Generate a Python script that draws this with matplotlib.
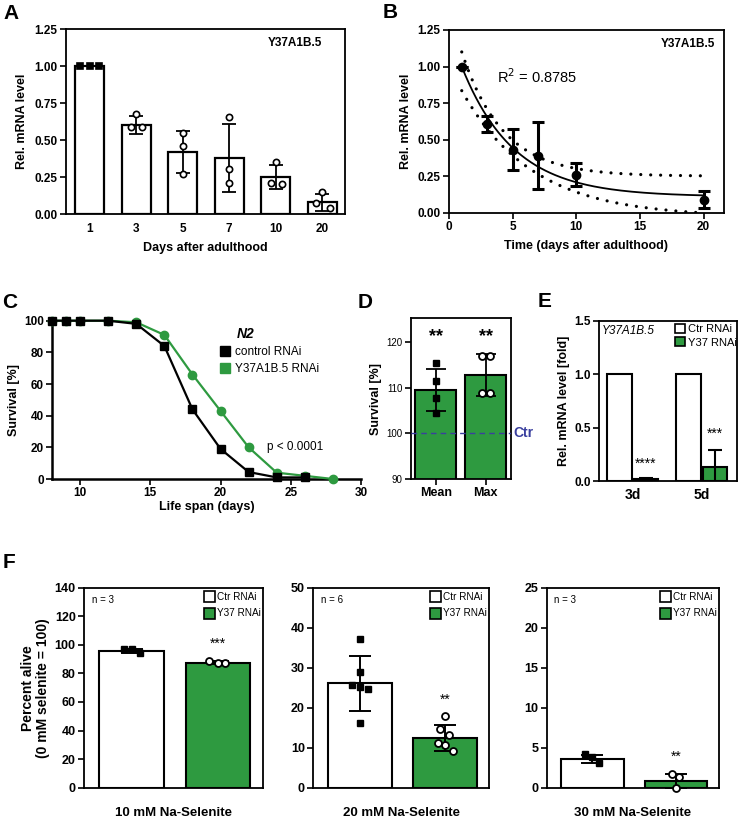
import numpy as np
import matplotlib
matplotlib.use('Agg')
from matplotlib import pyplot as plt
from matplotlib.patches import Patch
from matplotlib.lines import Line2D
from matplotlib.transforms import blended_transform_factory

# ---- data ----
# A: mRNA level over days
days_a = ['1', '3', '5', '7', '10', '20']
mrna_mean = [1.00, 0.60, 0.42, 0.38, 0.25, 0.08]
mrna_sd = [0.0, 0.06, 0.14, 0.23, 0.08, 0.056]
mrna_pts = [[1.0, 1.0, 1.0], [0.675, 0.59, 0.59], [0.547, 0.464, 0.27],
            [0.655, 0.304, 0.214], [0.35, 0.214, 0.205], [0.149, 0.074, 0.04]]

# B: same data as time course with exponential fit
time_b = [1, 3, 5, 7, 10, 20]
mean_b = [1.00, 0.61, 0.43, 0.39, 0.26, 0.09]
sd_b = [0.0, 0.055, 0.14, 0.23, 0.08, 0.057]
fit_plateau, fit_span, fit_k = 0.11, 0.89, 0.245
upper_plateau, upper_span, upper_k = 0.25, 0.85, 0.31
lower_plateau, lower_span, lower_k = -0.03, 0.865, 0.18
r_squared = 0.8785

# C: survival curves
days_ctrl = [8, 9, 10, 12, 14, 16, 18, 20, 22, 24, 26]
surv_ctrl = [100, 100, 100, 100, 98, 84, 44, 19, 4.4, 1, 1]
days_y37 = [8, 9, 10, 12, 14, 16, 18, 20, 22, 24, 26, 28]
surv_y37 = [100, 100, 100, 100, 99, 91, 66, 43, 20, 4, 2, 0]

# D: relative survival
cats_d = ['Mean', 'Max']
d_mean = [109.5, 112.7]
d_sd = [4.6, 4.6]
d_pts = [[115.4, 111.4, 107.7, 104.4], [116.9, 116.9, 108.9, 108.9]]

# E: knockdown efficiency
groups_e = ['3d', '5d']
e_ctr = [1.0, 1.0]
e_y37 = [0.02, 0.13]
e_y37_sd = [0.01, 0.16]
e_stars = ['****', '***']

# F: selenite stress
f_titles = ['10 mM Na-Selenite', '20 mM Na-Selenite', '30 mM Na-Selenite']
f_n = [3, 6, 3]
f_ymax = [140, 50, 25]
f_ystep = [20, 10, 5]
f_ctr_mean = [95.7, 26.1, 3.6]
f_ctr_sd = [1.5, 6.8, 0.55]
f_y37_mean = [87.5, 12.5, 0.85]
f_y37_sd = [1.0, 3.2, 0.85]
f_ctr_pts = [[97.1, 97.1, 94.5], [37.2, 28.9, 25.6, 25.3, 24.75, 16.1], [4.2, 3.9, 3.1]]
f_y37_pts = [[89.0, 87.2, 87.0], [17.9, 14.6, 13.2, 11.1, 10.6, 9.2], [1.7, 1.4, 0.0]]
f_stars = ['***', '**', '**']

# ---- styles / layout ----
GREEN = '#2e9a40'
BLUE = '#3a3f9e'
jit_a = [[-0.21, 0, 0.21], [0, -0.12, 0.12], [0, 0, 0], [0, 0, 0], [0, -0.11, 0.13], [0, -0.13, 0.16]]
jit_d = [[0, 0, 0, 0], [-0.08, 0.08, -0.07, 0.09]]
jit_f_ctr = [[-0.09, 0, 0.1], [0, 0, -0.09, 0, 0.09, 0], [-0.09, -0.01, 0.08]]
jit_f_y37 = [[-0.1, 0, 0.08], [0, -0.06, 0.05, -0.08, 0, 0.09], [-0.05, 0.045, 0]]
f_star_y = [100.6, 22.1, 3.9]

plt.rcParams['font.family'] = ['Liberation Sans', 'DejaVu Sans']
plt.rcParams['font.size'] = 8.5
plt.rcParams['axes.linewidth'] = 1.3
plt.rcParams['xtick.major.width'] = 1.2
plt.rcParams['ytick.major.width'] = 1.2
plt.rcParams['xtick.major.size'] = 4
plt.rcParams['ytick.major.size'] = 4
plt.rcParams['xtick.major.pad'] = 2
plt.rcParams['ytick.major.pad'] = 2

W, H = 740, 819
fig = plt.figure(figsize=(W / 100, H / 100), dpi=100)


def box(l, r, t, b):
    return [l / W, 1 - b / H, (r - l) / W, (b - t) / H]


def bold_ticks(ax, size=8.5):
    for lab in ax.get_xticklabels() + ax.get_yticklabels():
        lab.set_fontweight('bold')
        lab.set_fontsize(size)


def letter(x, y, s):
    fig.text(x / W, 1 - y / H, s, fontsize=15, fontweight='bold', va='top', ha='left')


# ---- A ----
ax = fig.add_axes(box(65.5, 345, 29, 214.3))
x = np.arange(len(days_a))
ax.bar(x, mrna_mean, width=0.62, color='white', edgecolor='black', linewidth=1.6, zorder=2)
has_err = np.array(mrna_sd) > 0
ax.errorbar(x[has_err], np.array(mrna_mean)[has_err], yerr=np.array(mrna_sd)[has_err], fmt='none',
            ecolor='black', elinewidth=1.3, capsize=5, capthick=1.3, zorder=3)
for i in range(len(days_a)):
    mk = 's' if i == 0 else 'o'
    fc = 'black' if i == 0 else 'white'
    ax.plot(x[i] + np.array(jit_a[i]), mrna_pts[i], ls='none', marker=mk, ms=4.5,
            mfc=fc, mec='black', mew=1.2, zorder=4)
ax.set_xlim(-0.52, 5.49)
ax.set_ylim(0, 1.25)
ax.set_xticks(x)
ax.set_xticklabels(days_a)
ax.tick_params(axis='x', length=0, pad=6)
ax.set_yticks([0, 0.25, 0.5, 0.75, 1.0, 1.25])
ax.set_yticklabels(['0.00', '0.25', '0.50', '0.75', '1.00', '1.25'])
bold_ticks(ax)
ax.set_ylabel('Rel. mRNA level', fontweight='bold', fontsize=9, labelpad=4)
ax.set_xlabel('Days after adulthood', fontweight='bold', fontsize=9, labelpad=5)
ax.text(0.918, 0.955, 'Y37A1B.5', transform=ax.transAxes, ha='right', va='top',
        fontweight='bold', fontsize=8.5)
letter(3, 4, 'A')

# ---- B ----
ax = fig.add_axes(box(449, 724, 30, 212.7))
xs = np.linspace(time_b[0], time_b[-1], 200)
fit = fit_plateau + fit_span * np.exp(-fit_k * (xs - time_b[0]))
upper = upper_plateau + upper_span * np.exp(-upper_k * (xs - time_b[0]))
lower = lower_plateau + lower_span * np.exp(-lower_k * (xs - time_b[0]))
ax.plot(xs, fit, color='black', lw=1.3, zorder=2)
for band in (upper, lower):
    ax.plot(xs, band, color='black', lw=2.3, ls=(0, (0.01, 3.1)), dash_capstyle='round', zorder=2)
ax.errorbar(time_b, mean_b, yerr=sd_b, fmt='o', color='black', ms=6, elinewidth=2.2,
            capsize=4, capthick=2.2, zorder=3)
ax.set_xlim(0, 21.6)
ax.set_ylim(0, 1.25)
ax.set_xticks([0, 5, 10, 15, 20])
ax.set_yticks([0, 0.25, 0.5, 0.75, 1.0, 1.25])
ax.set_yticklabels(['0.00', '0.25', '0.50', '0.75', '1.00', '1.25'])
bold_ticks(ax)
ax.set_ylabel('Rel. mRNA level', fontweight='bold', fontsize=9, labelpad=4)
ax.set_xlabel('Time (days after adulthood)', fontweight='bold', fontsize=9, labelpad=5)
ax.text(0.967, 0.955, 'Y37A1B.5', transform=ax.transAxes, ha='right', va='top',
        fontweight='bold', fontsize=8.5)
ax.text(3.8, 0.93, f'R$^2$ = {r_squared}', fontsize=10.5, va='center')
letter(383, 3, 'B')

# ---- C ----
ax = fig.add_axes(box(52, 361, 320.7, 479))
ax.plot(days_y37, surv_y37, color=GREEN, marker='o', ms=6, lw=1.6, clip_on=False, zorder=3)
ax.plot(days_ctrl, surv_ctrl, color='black', marker='s', ms=6, lw=1.6, clip_on=False, zorder=4)
ax.set_xlim(8, 30)
ax.set_ylim(0, 100)
ax.set_xticks([10, 15, 20, 25, 30])
ax.set_yticks([0, 20, 40, 60, 80, 100])
ax.spines['top'].set_visible(False)
ax.spines['right'].set_visible(False)
ax.spines['left'].set_linewidth(1.8)
ax.spines['bottom'].set_linewidth(1.8)
bold_ticks(ax)
ax.set_ylabel('Survival [%]', fontweight='bold', fontsize=9, labelpad=3)
ax.set_xlabel('Life span (days)', fontweight='bold', fontsize=9, labelpad=1)
handles = [Line2D([], [], ls='none', marker='s', ms=7, color='black'),
           Line2D([], [], ls='none', marker='s', ms=7, color=GREEN)]
ax.legend(handles, ['control RNAi', 'Y37A1B.5 RNAi'], loc='upper left',
          bbox_to_anchor=(0.543, 0.84), frameon=False, fontsize=8.5, handlelength=0.8,
          handletextpad=0.5, borderaxespad=0, labelspacing=0.45, borderpad=0)
ax.text(0.597, 0.915, 'N2', transform=ax.transAxes, fontweight='bold', style='italic',
        fontsize=10, va='center')
ax.text(23.3, 20, 'p < 0.0001', fontsize=8.5, va='center')
letter(2, 293, 'C')

# ---- D ----
ax = fig.add_axes(box(411, 510.7, 318.3, 479))
xd = np.arange(len(cats_d))
ax.bar(xd, d_mean, width=0.82, color=GREEN, edgecolor='black', linewidth=1.5, zorder=2)
ax.errorbar(xd, d_mean, yerr=d_sd, fmt='none', ecolor='black', elinewidth=1.3,
            capsize=7, capthick=1.3, zorder=3)
ax.plot(xd[0] + np.array(jit_d[0]), d_pts[0], ls='none', marker='s', ms=5, color='black', zorder=4)
ax.plot(xd[1] + np.array(jit_d[1]), d_pts[1], ls='none', marker='o', ms=5, mfc='white',
        mec='black', mew=1.3, zorder=4)
ax.axhline(100, color=BLUE, ls=(0, (4, 3)), lw=1, zorder=5)
ax.text(1.03, 100, 'Ctr', color=BLUE, fontsize=10, fontweight='bold', va='center',
        transform=blended_transform_factory(ax.transAxes, ax.transData))
for i in range(len(cats_d)):
    ax.text(xd[i], 121.2, '**', ha='center', va='center', fontsize=13, fontweight='bold')
ax.set_xlim(-0.5, 1.5)
ax.set_ylim(90, 125.2)
ax.set_xticks(xd)
ax.set_xticklabels(cats_d)
ax.set_yticks([90, 100, 110, 120])
for lab in ax.get_xticklabels():
    lab.set_fontweight('bold')
    lab.set_fontsize(9)
for lab in ax.get_yticklabels():
    lab.set_fontsize(7)
ax.set_ylabel('Survival [%]', fontweight='bold', fontsize=9, labelpad=3)
letter(358, 293, 'D')

# ---- E ----
ax = fig.add_axes(box(599, 737, 320.7, 481))
xe = np.arange(len(groups_e))
ax.bar(xe - 0.19, e_ctr, width=0.36, color='white', edgecolor='black', linewidth=1.5, zorder=2)
ax.bar(xe + 0.19, e_y37, width=0.36, color=GREEN, edgecolor='black', linewidth=1.5, zorder=2)
ax.errorbar(xe + 0.19, e_y37, yerr=e_y37_sd, fmt='none', ecolor='black', elinewidth=1.5,
            capsize=5, capthick=1.5, zorder=3)
e_star_y = [0.16, 0.44]
for i in range(len(groups_e)):
    ax.text(xe[i] + 0.19, e_star_y[i], e_stars[i], ha='center', va='center', fontsize=10)
ax.set_xlim(-0.49, 1.51)
ax.set_ylim(0, 1.5)
ax.set_xticks(xe)
ax.set_xticklabels(groups_e)
ax.tick_params(axis='x', length=0, pad=5)
ax.set_yticks([0, 0.5, 1.0, 1.5])
bold_ticks(ax)
for lab in ax.get_xticklabels():
    lab.set_fontsize(10)
ax.set_ylabel('Rel. mRNA level [fold]', fontweight='bold', fontsize=9, labelpad=3)
ax.text(0.02, 0.975, 'Y37A1B.5', transform=ax.transAxes, style='italic', fontsize=8.5,
        va='top', ha='left')
ax.legend([Patch(facecolor='white', edgecolor='black', lw=1.2),
           Patch(facecolor=GREEN, edgecolor='black', lw=1.2)], ['Ctr RNAi', 'Y37 RNAi'],
          loc='upper right', bbox_to_anchor=(1.02, 1.0), frameon=False, fontsize=8,
          handlelength=0.9, handleheight=0.9, handletextpad=0.2, labelspacing=0.25,
          borderaxespad=0.2, borderpad=0.1)
letter(538, 292, 'E')

# ---- F ----
f_boxes = [(84, 263), (313.3, 489.3), (546.7, 719)]
for k in range(3):
    ax = fig.add_axes(box(f_boxes[k][0], f_boxes[k][1], 587.7, 787.7))
    ax.bar([0], [f_ctr_mean[k]], width=0.75, color='white', edgecolor='black', linewidth=1.5, zorder=2)
    ax.bar([1], [f_y37_mean[k]], width=0.75, color=GREEN, edgecolor='black', linewidth=1.5, zorder=2)
    ax.errorbar([0, 1], [f_ctr_mean[k], f_y37_mean[k]], yerr=[f_ctr_sd[k], f_y37_sd[k]],
                fmt='none', ecolor='black', elinewidth=1.4, capsize=8, capthick=1.4, zorder=3)
    ax.plot(0 + np.array(jit_f_ctr[k]), f_ctr_pts[k], ls='none', marker='s', ms=5,
            color='black', zorder=4)
    ax.plot(1 + np.array(jit_f_y37[k]), f_y37_pts[k], ls='none', marker='o', ms=5,
            mfc='white', mec='black', mew=1.3, zorder=4, clip_on=False)
    ax.text(1, f_star_y[k], f_stars[k], ha='center', va='center', fontsize=10)
    ax.text(0.045, 0.965, f'n = {f_n[k]}', transform=ax.transAxes, fontsize=7, va='top')
    ax.legend([Patch(facecolor='white', edgecolor='black', lw=1.2),
               Patch(facecolor=GREEN, edgecolor='black', lw=1.2)], ['Ctr RNAi', 'Y37 RNAi'],
              loc='upper right', bbox_to_anchor=(1.0, 0.995), frameon=False, fontsize=7.2,
              handlelength=1.1, handleheight=1.3, handletextpad=0.15, labelspacing=0.55,
              borderaxespad=0.15, borderpad=0.1)
    ax.set_xlim(-0.55, 1.52)
    ax.set_ylim(0, f_ymax[k])
    ax.set_xticks([])
    ax.set_yticks(np.arange(0, f_ymax[k] + 1, f_ystep[k]))
    bold_ticks(ax, 9)
    ax.set_xlabel(f_titles[k], fontweight='bold', fontsize=9.5, labelpad=14)
    if k == 0:
        ax.set_ylabel('Percent alive\n(0 mM selenite = 100)', fontweight='bold', fontsize=10,
                      labelpad=3, linespacing=1.15)
letter(3, 553, 'F')

fig.savefig('out.png', dpi=100)
